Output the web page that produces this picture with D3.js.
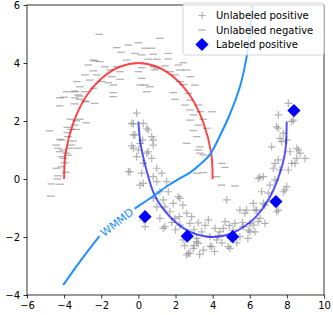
<!DOCTYPE html>
<html><head><meta charset="utf-8">
<script src="https://cdn.jsdelivr.net/npm/d3@7"></script>
<style>body{margin:0;background:#fff}svg{display:block;font-family:"DejaVu Sans",sans-serif}</style>
</head><body>
<svg id="c" width="333" height="315"></svg>
<script>
// ---------- data ----------
const xTicks = [-6,-4,-2,0,2,4,6,8,10];
const yTicks = [-4,-2,0,2,4,6];
const legendLabels = ["Unlabeled positive","Unlabeled negative","Labeled positive"];
const curveLabel = "WMMD";

const unlabeledNegative = [
[-4.72,-0.59],[-4.69,-0.17],[-4.21,-0.18],[-4.37,0],[-4.33,0.11],[-3.92,0.23],[-4.42,0.37],[-4.15,0.42],[-3.97,0.56],
[-4.01,0.71],[-3.79,0.82],[-4.15,0.77],[-3.88,0.89],[-4.24,0.94],[-4.06,1.0],[-3.70,1.06],[-3.25,1.06],[-4.33,1.06],
[-4.42,1.17],[-3.61,1.17],[-3.52,1.31],[-4.15,1.34],[-3.79,1.46],[-4.24,1.37],[-3.83,1.60],[-3.61,1.71],[-3.35,1.71],
[-2.81,1.94],[-3.43,1.86],[-4.78,1.66],[-3.83,1.78],[-3.35,2.01],[-3.16,2.06],[-3.65,2.06],[-4.24,2.52],[-3.43,2.59],
[-3.16,2.75],[-2.89,2.69],[-3.25,2.90],[-2.81,2.66],[-2.35,2.61],[-4.01,2.82],[-3.43,3.03],
[-2.11,4.99],[0,4.70],[-0.54,4.62],[-1.17,4.53],[0.36,4.51],[-0.94,4.37],[-0.18,4.33],[0.18,4.28],[0.72,4.51],
[-2.43,4.10],[-2.07,4.05],[-0.63,4.10],[0.53,4.13],[-2.70,3.93],[-1.80,3.87],[-1.17,3.87],[0.18,3.84],[0.80,3.87],
[-2.43,3.73],[-1.53,3.76],[-0.99,3.70],[0,3.70],[0.89,3.76],[-2.88,3.59],[-2.25,3.59],[-1.44,3.53],[-0.99,3.44],
[0.18,3.47],[-3.32,3.36],[-2.61,3.41],[-1.98,3.36],[-1.62,3.32],[-3.15,3.18],[-2.43,3.13],[-1.35,3.24],[0.36,3.24],
[0.63,3.18],[-3.42,3.01],[-2.88,3.01],[-1.35,2.98],[-3.42,2.80],[-3.15,2.86],
[0.99,4.13],[1.61,4.14],[2.42,4.01],[2.15,3.93],[1.43,3.90],[0.99,3.82],[2.24,3.76],[2.60,3.76],[1.70,3.70],
[1.97,3.59],[2.78,3.53],[2.24,3.36],[2.42,3.26],[3.05,3.24],[1.88,2.98],[2.69,2.95],[1.97,2.75],[2.78,2.72],
[2.51,2.55],[3.23,2.55],[2.78,2.38],[2.96,2.21],[3.32,2.32],[2.78,2.03],[3.50,2.06],[3.95,2.32],[3.23,1.86],
[2.96,1.67],[3.68,1.75],[3.14,1.46],[2.60,1.23],[3.32,1.11],[3.23,1.0],[3.50,0.83],[4.49,0.54],[4.67,0.40],
[3.14,0.20],[3.50,0.22],[4.49,-0.21],[4.22,0.08],[5.20,-0.24],[3.32,0.89],
[-4.22,2.80],[-3.86,3.01],[-2.34,4.07],[-1.36,2.84],[0.09,3.24],[0.45,3.01],[1.16,4.85],[0.80,4.30],[1.61,4.33]
];

const unlabeledPositive = [
[-0.09,2.27],[-0.27,1.90],[0.26,1.92],[0.53,1.69],[-0.27,1.52],[0.23,1.34],[0.80,1.34],[-0.36,1.14],[0,1.0],
[0.53,0.94],[-0.09,0.77],[0.72,0.71],[-0.45,0.25],[0.26,0.54],[0.99,0.37],[0.18,0.20],[0.80,0.08],[1.26,0.20],
[0.09,-0.21],[0.99,-0.09],[1.52,-0.09],[2.15,-0.61],[1.16,-0.44],[1.61,-0.44],[1.34,-0.72],[0.99,-0.96],[1.43,-0.96],
[1.70,-1.13],[1.16,-1.36],[1.97,-1.36],[2.60,-1.18],[2.87,-1.30],[2.24,-1.59],[2.78,-1.53],[1.34,-1.70],[0.36,-1.64],
[0.26,-1.41],[3.14,-2.05],[2.69,-2.56],[0.80,-0.67],[-0.54,0.25],[0.26,-0.15],
[6.55,0.06],[6.64,-0.44],[4.76,-0.72],[5.74,-1.18],[6.37,-1.07],[3.23,-1.51],[3.77,-1.41],[4.13,-1.70],[4.67,-1.47],
[5.20,-1.53],[5.65,-1.64],[6.19,-1.59],[6.01,-1.82],[3.41,-1.82],[3.86,-1.99],[4.40,-1.82],[5.47,-1.99],[3.23,-2.22],
[3.86,-2.31],[4.84,-2.33],[4.22,-2.10],[4.57,-1.70],[5.11,-1.76],[6.55,-1.36],[6.73,-0.84],
[5.47,-1.07],[6.73,0.08],[7.36,0.54],[7.63,0.31],[7.09,-0.21],[7.99,-0.26],[7.81,-0.44],[7.45,-1.13],[6.19,-0.84],
[5.83,-1.07],[1.88,-0.84],[2.24,-0.67],[1.43,-1.64],[2.96,-2.39],[2.78,-2.56],[2.60,-2.62],[4.94,-2.39],[3.14,-2.16],
[8.53,0.71],[8.26,0.54],[8.98,0.71],[8.71,0.89],
[8.08,2.61],[7.54,2.21],[8.26,1.98],[7.54,1.75],[7.63,1.40],[7.99,1.34],[7.18,1.11],[8.62,1.0],[8.17,0.94],
[7.54,0.66],[8.44,0.54],[7.27,0.37],[8.08,0.31],[6.46,0.02],[7.36,-0.03],[7.90,-0.38],[7.00,-0.49],[6.82,-0.90],
[7.54,-1.07],[6.28,-1.07],[6.01,-1.53],[6.46,-1.47],[6.82,-1.53],[5.92,-1.76],[6.28,-1.82],[7.81,1.58],[7.72,1.29],
[8.35,2.03],[8.53,1.06],[7.45,1.80],
[-0.36,1.92],[0.45,1.75],[-0.18,1.52],[0.72,1.46],[0.09,1.23],[0.80,1.17],[-0.27,1.06],[0.45,0.89],
[2.0,-1.75],[2.4,-2.1],[3.0,-1.75],[3.5,-2.45],[4.1,-2.5],[4.5,-2.2],[5.3,-2.2],[5.6,-1.5],[4.9,-1.6],[3.6,-1.6],
[2.5,-2.3],[3.3,-2.6],[4.3,-1.95],[5.0,-2.05],[5.9,-2.05],[3.0,-2.3],[2.2,-1.3],[1.8,-1.5],[2.4,-0.9],[3.95,-2.33]
];

const labeledPositive = [[0.36,-1.30],[2.63,-1.97],[5.08,-1.99],[7.41,-0.78],[8.38,2.36]];

const negCurve = [[-4,0],[-3.92,0.9],[-3.5,1.94],[-2.8,2.86],[-2,3.46],[-1,3.87],[0,4],[1,3.87],[2,3.46],[2.8,2.86],[3.5,1.94],[3.92,0.9],[4,0]];
const posCurve = [[0,1.98],[0.12,1.2],[0.36,0.5],[0.89,-0.58],[1.7,-1.3],[2.78,-1.82],[4,-2.0],[5.0,-1.88],[5.74,-1.62],[6.28,-1.34],[7.0,-0.72],[7.54,0.05],[7.9,0.9],[7.99,1.98]];
const wmmdLeft = [[-4.05,-3.66],[-3.15,-2.85],[-2.1,-1.97]];
const wmmdRight = [[-0.2,-1.02],[0.89,-0.55],[1.52,-0.26],[2.24,0.02],[2.78,0.22],[3.32,0.50],[3.86,0.85],[4.4,1.5],[4.94,2.25],[5.47,3.18],[5.80,4.10],[6.01,5.02],[6.19,6.17]];

// ---------- layout ----------
const L = 27, R = 324, T = 5, B = 295;
const svg = d3.select("#c");
const x = d3.scaleLinear().domain([-6,10]).range([L,R]);
const y = d3.scaleLinear().domain([-4,6]).range([B,T]);
const grey = "rgba(128,128,128,0.6)";

const clipId = "clip";
svg.append("clipPath").attr("id",clipId).append("rect").attr("x",L).attr("y",T).attr("width",R-L).attr("height",B-T);
const g = svg.append("g").attr("clip-path",`url(#${clipId})`);

// plus markers
const plusPath = s => `M${-s},0H${s}M0,${-s}V${s}`;
g.append("g").selectAll("path").data(unlabeledPositive).join("path")
  .attr("transform",d=>`translate(${x(d[0])},${y(d[1])})`)
  .attr("d",plusPath(3.8)).attr("stroke",grey).attr("stroke-width",1.2).attr("fill","none");
// minus markers
g.append("g").selectAll("path").data(unlabeledNegative).join("path")
  .attr("transform",d=>`translate(${x(d[0])},${y(d[1])})`)
  .attr("d","M-3.8,0H3.8").attr("stroke",grey).attr("stroke-width",1.3).attr("fill","none");

const line = d3.line().x(d=>x(d[0])).y(d=>y(d[1])).curve(d3.curveCatmullRom.alpha(0.5));
g.append("path").attr("d",line(negCurve)).attr("fill","none").attr("stroke","rgba(255,0,0,0.72)").attr("stroke-width",2);
g.append("path").attr("d",line(posCurve)).attr("fill","none").attr("stroke","rgba(0,0,255,0.68)").attr("stroke-width",2);
g.append("path").attr("d",line(wmmdLeft)).attr("fill","none").attr("stroke","#1E90FF").attr("stroke-width",2);
g.append("path").attr("d",line(wmmdRight)).attr("fill","none").attr("stroke","#1E90FF").attr("stroke-width",2);

// inline label
const a = wmmdLeft[wmmdLeft.length-1], b = wmmdRight[0];
const mx = (x(a[0])+x(b[0]))/2, my = (y(a[1])+y(b[1]))/2;
const ang = Math.atan2(y(b[1])-y(a[1]), x(b[0])-x(a[0]))*180/Math.PI;
svg.append("text").attr("transform",`translate(${mx},${my}) rotate(${ang})`)
  .attr("text-anchor","middle").attr("dy","0.35em").attr("font-size",11).attr("fill","#1E90FF").text(curveLabel);

// diamonds
const dia = 6.6;
g.append("g").selectAll("path").data(labeledPositive).join("path")
  .attr("transform",d=>`translate(${x(d[0])},${y(d[1])})`)
  .attr("d",`M0,${-dia}L${dia},0L0,${dia}L${-dia},0Z`).attr("fill","#0000ff");

// axes
const fmt = d => d<0 ? "\u2212"+Math.abs(d) : String(d);
const xa = svg.append("g").attr("transform",`translate(0,${B})`)
  .call(d3.axisBottom(x).tickValues(xTicks).tickFormat(fmt).tickSize(3.5).tickPadding(3.5));
const ya = svg.append("g").attr("transform",`translate(${L},0)`)
  .call(d3.axisLeft(y).tickValues(yTicks).tickFormat(fmt).tickSize(3.5).tickPadding(3.5));
[xa,ya].forEach(ax=>{
  ax.select(".domain").remove();
  ax.selectAll("line").attr("stroke","#000").attr("stroke-width",0.8);
  ax.selectAll("text").attr("font-size",10).attr("fill","#000").attr("font-family","DejaVu Sans");
});
svg.append("rect").attr("x",L).attr("y",T).attr("width",R-L).attr("height",B-T)
  .attr("fill","none").attr("stroke","#000").attr("stroke-width",0.8);

// legend
const lg = svg.append("g");
lg.append("rect").attr("x",183).attr("y",3).attr("width",141).attr("height",52).attr("rx",2.5)
  .attr("fill","rgba(255,255,255,0.8)").attr("stroke","#cccccc").attr("stroke-width",0.8);
const rows = [15.5,30,44.5];
legendLabels.forEach((t,i)=>{
  const cy = rows[i], cx = 202;
  if(i===0) lg.append("path").attr("transform",`translate(${cx},${cy})`).attr("d",plusPath(3.8)).attr("stroke",grey).attr("stroke-width",1.2);
  if(i===1) lg.append("path").attr("transform",`translate(${cx},${cy})`).attr("d","M-3.8,0H3.8").attr("stroke",grey).attr("stroke-width",1.3);
  if(i===2) lg.append("path").attr("transform",`translate(${cx},${cy})`).attr("d",`M0,${-dia}L${dia},0L0,${dia}L${-dia},0Z`).attr("fill","#0000ff");
  lg.append("text").attr("x",216).attr("y",cy).attr("dy","0.35em").attr("font-size",10).attr("fill","#000").text(t);
});
</script>
</body></html>
